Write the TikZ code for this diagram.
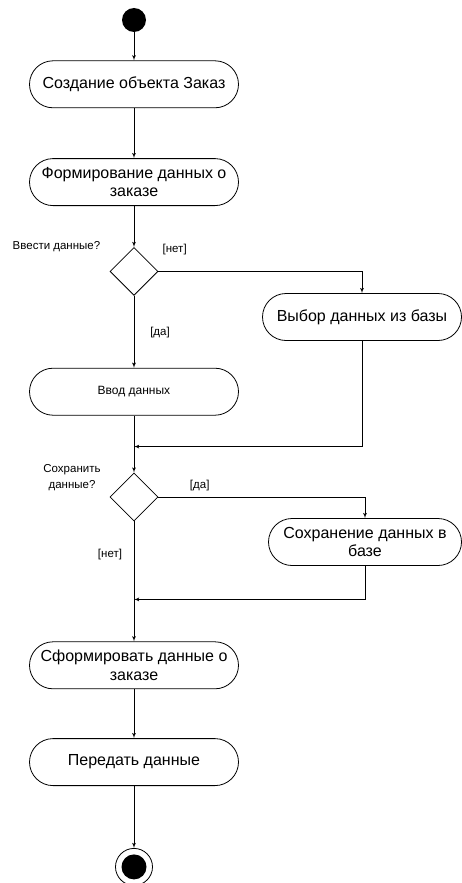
\documentclass[tikz,border=0pt]{standalone}
\usepackage{fontspec}
\setmainfont{Liberation Sans}
\usetikzlibrary{positioning,arrows,shapes.geometric}

\begin{document}
\begin{tikzpicture}[x=1pt,y=-1pt,->,>=latex',line width=0.8pt,node distance=40pt,
	activity/.style={draw,rectangle,rounded corners=23.5pt,minimum width=209pt,minimum height=47pt,align=center,font=\fontsize{16}{18.5}\selectfont},
	decision/.style={draw,diamond,minimum width=48pt,minimum height=48pt,inner sep=0pt},
	guard/.style={font=\fontsize{11.5}{16}\selectfont,align=center}]
			\useasboundingbox (0,0) rectangle (462,883);
			\node[circle,fill,minimum size=24pt,inner sep=0pt] (start) at (134,20) {};
			\node[activity] (create) [below=28pt of start] {Создание объекта Заказ};
			\node[activity] (form) [below=50pt of create] {Формирование данных о\\заказе};
			\node[decision] (d1) [below=41pt of form] {};
			\node[activity] (input) [below=72pt of d1,font=\fontsize{12}{14}\selectfont] {Ввод данных};
			\node[activity,minimum width=199pt] (select) at (362,317) {Выбор данных из базы};
			\coordinate[below=31pt of input] (m1);
			\node[decision] (d2) [below=57pt of input] {};
			\node[activity,minimum width=193pt] (save) at (365,542) {Сохранение данных в\\базе};
			\coordinate[below=78pt of d2] (m2);
			\node[activity] (result) [below=120pt of d2] {Сформировать данные о\\заказе};
			\node[activity] (send) [below=49pt of result] {Передать данные};
			\node[circle,draw,minimum size=37pt,inner sep=0pt] (end) [below=62pt of send] {};
			\node[circle,fill,minimum size=25pt,inner sep=0pt] (endin) at (end) {};

			\node[guard,anchor=east] (q1) at ([xshift=-30pt]d1.north) {Ввести данные?};
			\node[guard] (q2) at ([xshift=-62pt,yshift=-5pt]d2.north) {Сохранить\\данные?};

			\draw (start) -- (create);
			\draw (create) -- (form);
			\draw (form) -- (d1);
			\draw (d1) -| node[guard,pos=0.04,yshift=22pt] {[нет]} (select);
			\draw (d1) -- node[guard,pos=0.51,xshift=26pt] {[да]} (input);
			\draw (select) |- (m1);
			\draw (input) -- (d2);
			\draw (d2) -| node[guard,pos=0.1,yshift=11pt] {[да]} (save);
			\draw (d2) -- node[guard,pos=0.28,xshift=-24pt] {[нет]} (result);
			\draw (save) |- (m2);
			\draw (result) -- (send);
			\draw (send) -- (end);
\end{tikzpicture}
\end{document}
